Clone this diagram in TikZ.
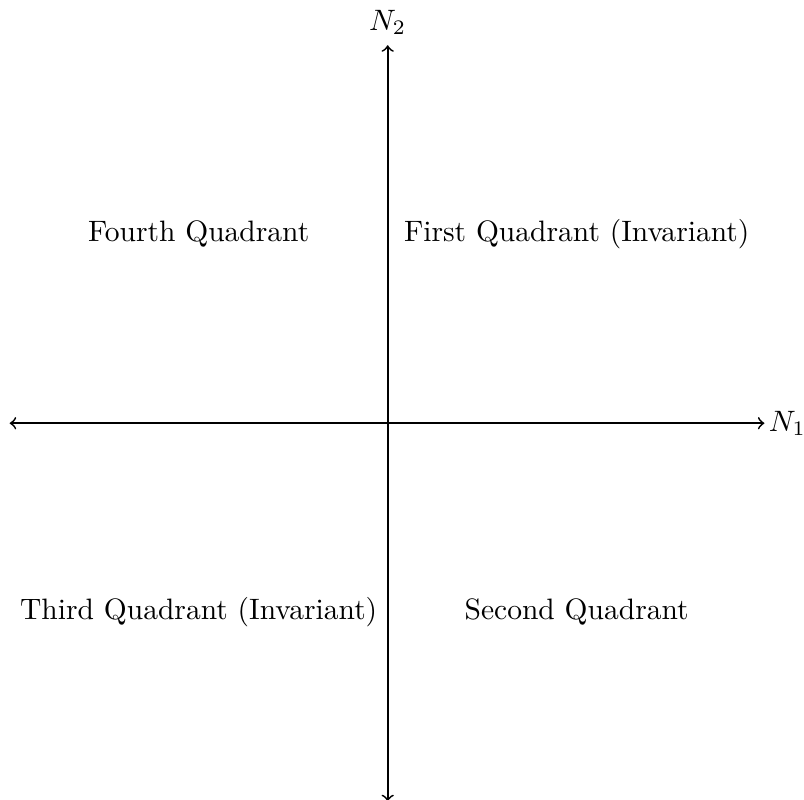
\documentclass[tikz,border=0pt]{standalone}
\begin{document}
\begin{tikzpicture}[x=1.5cm,y=1.5cm,axis/.style={<->,semithick}]
\useasboundingbox (-3.077,-2.990) rectangle (3.304,3.359);
\coordinate (L) at (-3,0);
\coordinate (R) at (2.99,0);
\coordinate (B) at (0,-3);
\coordinate (T) at (0,3);
\draw[axis] (L) -- (R) node[right,inner sep=1.2pt] (n1) {$N_1$};
\draw[axis] (B) -- (T) node[above] (n2) {$N_2$};
\node (q1) at (1.5,1.5) {First Quadrant (Invariant)};
\node (q2) at (1.5,-1.5) {Second Quadrant};
\node (q3) at (-1.5,-1.5) {Third Quadrant (Invariant)};
\node (q4) at (-1.5,1.5) {Fourth Quadrant};
\end{tikzpicture}
\end{document}
